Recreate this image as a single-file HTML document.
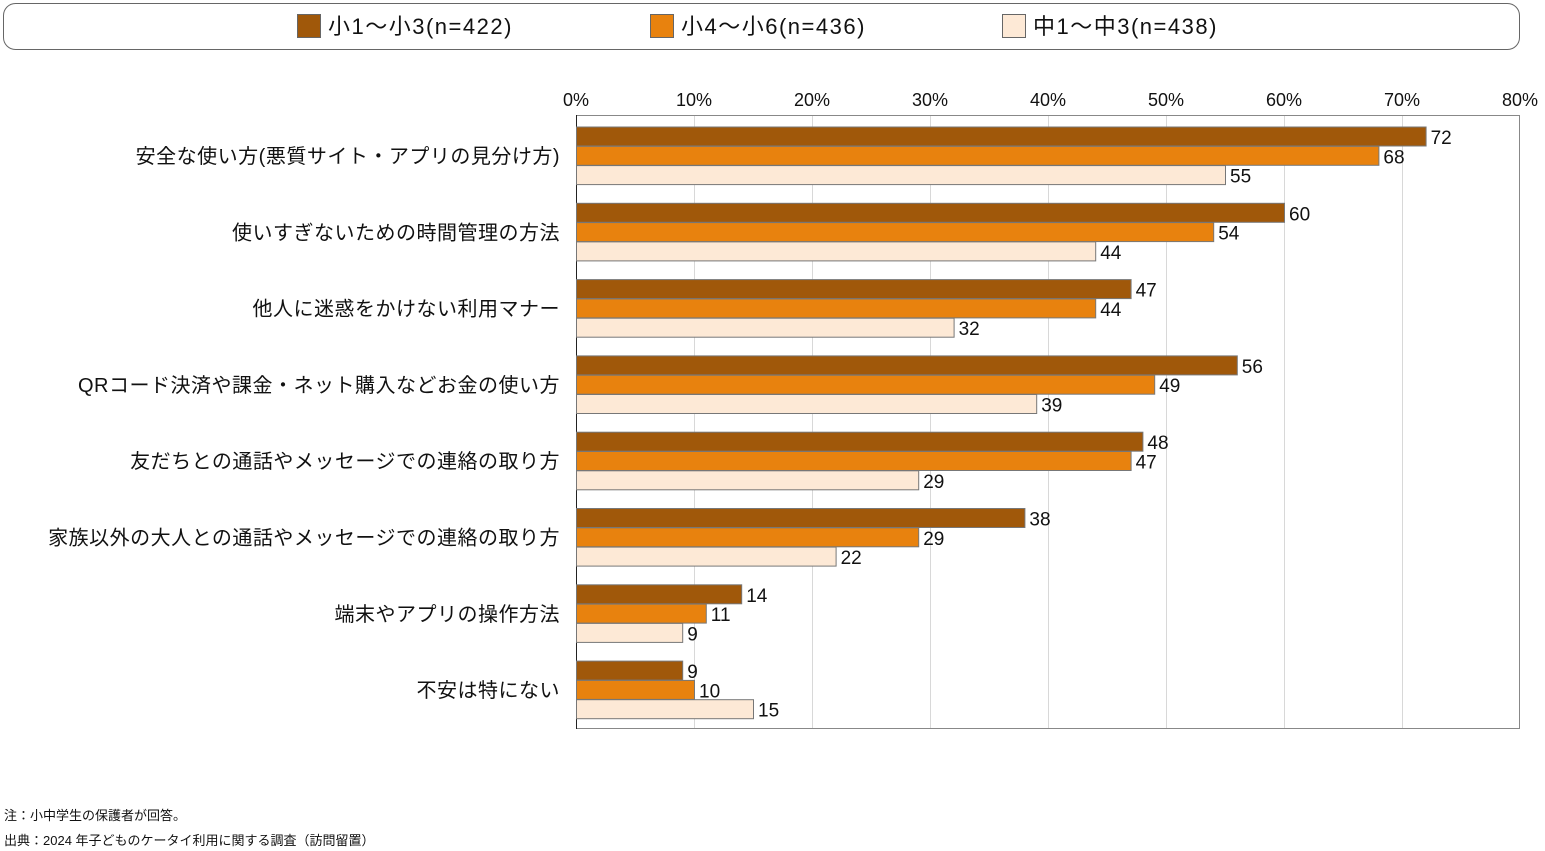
<!DOCTYPE html>
<html><head><meta charset="utf-8"><style>
body{margin:0;background:#fff;}
svg{display:block;font-family:"Liberation Sans","Noto Sans CJK JP",sans-serif;}
</style></head><body>
<svg width="1545" height="851" viewBox="0 0 1545 851" xmlns="http://www.w3.org/2000/svg">
<rect x="3.5" y="3.5" width="1516" height="46" rx="12" fill="#fff" stroke="#666" stroke-width="1"/>
<rect x="297.5" y="14.5" width="23" height="23" fill="#A0580A" stroke="#666"/>
<text x="328" y="34" font-size="22" letter-spacing="1.5" fill="#111">小1〜小3(n=422)</text>
<rect x="650.5" y="14.5" width="23" height="23" fill="#E8820E" stroke="#666"/>
<text x="681" y="34" font-size="22" letter-spacing="1.5" fill="#111">小4〜小6(n=436)</text>
<rect x="1002.5" y="14.5" width="23" height="23" fill="#FDE9D6" stroke="#666"/>
<text x="1033" y="34" font-size="22" letter-spacing="1.5" fill="#111">中1〜中3(n=438)</text>
<g stroke="#d8d8d8" stroke-width="1">
<line x1="694.5" y1="116" x2="694.5" y2="729"/><line x1="812.5" y1="116" x2="812.5" y2="729"/>
<line x1="930.5" y1="116" x2="930.5" y2="729"/><line x1="1048.5" y1="116" x2="1048.5" y2="729"/>
<line x1="1166.5" y1="116" x2="1166.5" y2="729"/><line x1="1284.5" y1="116" x2="1284.5" y2="729"/>
<line x1="1402.5" y1="116" x2="1402.5" y2="729"/>
</g>
<rect x="576.5" y="115.5" width="943" height="613" fill="none" stroke="#888"/>
<line x1="576.5" y1="115" x2="576.5" y2="729" stroke="#222"/>
<g font-size="18" fill="#111" text-anchor="middle">
<text x="576" y="106">0%</text><text x="694" y="106">10%</text><text x="812" y="106">20%</text><text x="930" y="106">30%</text><text x="1048" y="106">40%</text><text x="1166" y="106">50%</text><text x="1284" y="106">60%</text><text x="1402" y="106">70%</text><text x="1520" y="106">80%</text>
</g>
<g id="bars" stroke="#777" stroke-width="1"></g>
<g id="vals" font-size="19" fill="#111"></g>
<g id="cats" font-size="20" letter-spacing="0.5" fill="#111" text-anchor="end"></g>
<text x="4" y="820" font-size="13" fill="#111">注：小中学生の保護者が回答。</text>
<text x="4" y="845" font-size="13" fill="#111">出典：2024 年子どものケータイ利用に関する調査（訪問留置）</text>
<script>
(function(){
var cats=["安全な使い方(悪質サイト・アプリの見分け方)","使いすぎないための時間管理の方法","他人に迷惑をかけない利用マナー","QRコード決済や課金・ネット購入などお金の使い方","友だちとの通話やメッセージでの連絡の取り方","家族以外の大人との通話やメッセージでの連絡の取り方","端末やアプリの操作方法","不安は特にない"];
var d=[[72,68,55],[60,54,44],[47,44,32],[56,49,39],[48,47,29],[38,29,22],[14,11,9],[9,10,15]];
var cols=["#A0580A","#E8820E","#FDE9D6"];
var ns="http://www.w3.org/2000/svg",B=document.getElementById("bars"),V=document.getElementById("vals"),C=document.getElementById("cats");
for(var i=0;i<8;i++){var tp=127+i*76.3;
for(var j=0;j<3;j++){var y=tp+j*19.3,w=d[i][j]*11.8;
var r=document.createElementNS(ns,"rect");r.setAttribute("x",576.5);r.setAttribute("y",y);r.setAttribute("width",w);r.setAttribute("height",19);r.setAttribute("fill",cols[j]);B.appendChild(r);
var t=document.createElementNS(ns,"text");t.setAttribute("x",576+w+5);t.setAttribute("y",y+17);t.textContent=d[i][j];V.appendChild(t);}
var c=document.createElementNS(ns,"text");c.setAttribute("x",560);c.setAttribute("y",tp+36);c.textContent=cats[i];C.appendChild(c);}
})();
</script>
</svg>
</body></html>
